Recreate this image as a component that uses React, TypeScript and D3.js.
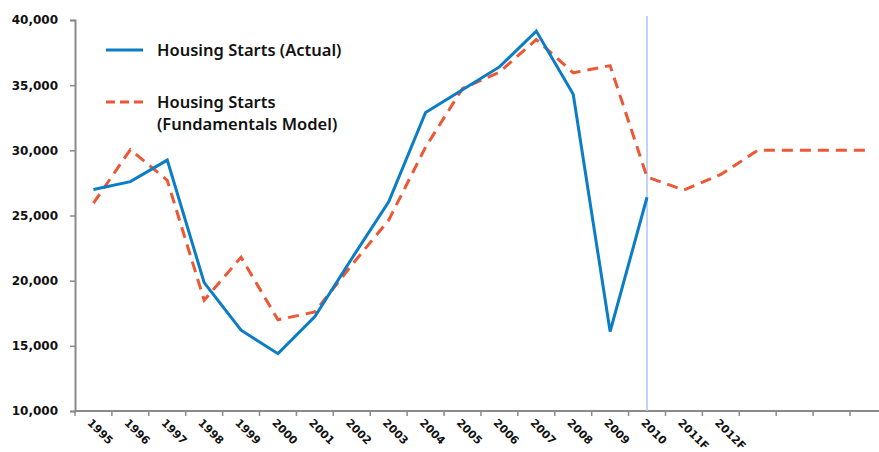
import { useEffect, useRef } from "react";
import * as d3 from "d3";

const categories = [
  "1995", "1996", "1997", "1998", "1999", "2000", "2001", "2002", "2003", "2004", "2005",
  "2006", "2007", "2008", "2009", "2010", "2011F", "2012F", "", "", "", "",
];
const actual = [
  27000, 27600, 29250, 19850, 16200, 14400, 17250, 21700, 26050, 32900, 34650, 36400,
  39150, 34300, 16100, 26400,
];
const model = [
  25950, 30050, 27700, 18500, 21800, 17000, 17600, 21200, 24650, 30250, 34750, 36000,
  38500, 35950, 36500, 27950, 26950, 28150, 30000, 30000, 30000, 30000,
];
const yTicks = [10000, 15000, 20000, 25000, 30000, 35000, 40000];
const markerCategory = "2010";
const legendItems = [
  { lines: ["Housing Starts (Actual)"], dashed: false },
  { lines: ["Housing Starts", "(Fundamentals Model)"], dashed: true },
];

const W = 879;
const H = 452;
const LEFT = 75;
const STEP = 36.905;
const TOP = 20;
const BOTTOM = 411;
const BLUE = "#0a7dc6";
const ORANGE = "#ec5734";
const AXIS = "#8a8a8a";
const MARKER = "#a9c9ee";

export default function App() {
  const svgRef = useRef<SVGSVGElement>(null);

  useEffect(() => {
    const svg = d3.select(svgRef.current);
    svg.selectAll("*").remove();

    const idx = d3.range(categories.length);
    const x = d3
      .scaleBand<number>()
      .domain(idx)
      .range([LEFT, LEFT + STEP * categories.length])
      .paddingInner(0)
      .paddingOuter(0);
    const cx = (i: number) => (x(i) ?? 0) + x.bandwidth() / 2;
    const y = d3.scaleLinear().domain([10000, 40000]).range([BOTTOM, TOP]);

    // y axis
    const yAxis = svg
      .append("g")
      .attr("transform", `translate(${LEFT},0)`)
      .call(d3.axisLeft(y).tickValues(yTicks).tickSize(5).tickPadding(12).tickFormat(d3.format(",")));
    yAxis.select(".domain").attr("stroke", AXIS).attr("stroke-width", 2);
    yAxis.selectAll(".tick line").attr("stroke", AXIS).attr("stroke-width", 1.5);
    yAxis
      .selectAll(".tick text")
      .attr("fill", "#111")
      .attr("font-size", "12px")
      .attr("font-weight", "bold")
      .attr("font-family", "DejaVu Sans, Verdana, sans-serif");

    // x axis
    const xg = svg.append("g").attr("transform", `translate(0,${BOTTOM})`);
    xg.append("line")
      .attr("x1", LEFT)
      .attr("x2", LEFT + STEP * categories.length)
      .attr("stroke", AXIS)
      .attr("stroke-width", 2);
    xg.selectAll("line.tick")
      .data(d3.range(categories.length + 1))
      .enter()
      .append("line")
      .attr("class", "tick")
      .attr("x1", (i) => LEFT + i * x.bandwidth())
      .attr("x2", (i) => LEFT + i * x.bandwidth())
      .attr("y1", 0)
      .attr("y2", 5)
      .attr("stroke", AXIS)
      .attr("stroke-width", 1.5);
    xg.selectAll("text")
      .data(idx)
      .enter()
      .append("text")
      .attr("transform", (i) => `translate(${cx(i) - 1},${7}) rotate(45)`)
      .attr("dy", "0.72em")
      .attr("fill", "#111")
      .attr("font-size", "11px")
      .attr("font-weight", "bold")
      .attr("font-family", "DejaVu Sans, Verdana, sans-serif")
      .text((i) => categories[i]);

    // forecast marker
    const mi = categories.indexOf(markerCategory);
    svg.append("line")
      .attr("x1", cx(mi))
      .attr("x2", cx(mi))
      .attr("y1", TOP - 4)
      .attr("y2", BOTTOM)
      .attr("stroke", MARKER)
      .attr("stroke-width", 1.5);

    const line = d3
      .line<number>()
      .x((_, i) => cx(i))
      .y((d) => y(d));

    svg.append("path")
      .datum(model)
      .attr("fill", "none")
      .attr("stroke", ORANGE)
      .attr("stroke-width", 3)
      .attr("stroke-dasharray", "11 7")
      .attr("d", line);

    svg.append("path")
      .datum(actual)
      .attr("fill", "none")
      .attr("stroke", BLUE)
      .attr("stroke-width", 3)
      .attr("stroke-linejoin", "miter")
      .attr("d", line);

    // legend
    const lg = svg.append("g");
    const rowY = [50, 102];
    legendItems.forEach((item, k) => {
      lg.append("line")
        .attr("x1", 106)
        .attr("x2", 143)
        .attr("y1", rowY[k])
        .attr("y2", rowY[k])
        .attr("stroke", item.dashed ? ORANGE : BLUE)
        .attr("stroke-width", 3)
        .attr("stroke-dasharray", item.dashed ? "9 5" : null);
      item.lines.forEach((t, j) => {
        lg.append("text")
          .attr("x", 157)
          .attr("y", rowY[k] + 6 + j * 22)
          .attr("fill", "#111")
          .attr("font-size", "16.5px")
          .attr("font-weight", 600)
          .attr("font-family", "Noto Sans, sans-serif")
          .text(t);
      });
    });
  }, []);

  return (
    <svg
      ref={svgRef}
      width={W}
      height={H}
      style={{ position: "absolute", left: 0, top: 0, background: "#fff" }}
    />
  );
}
